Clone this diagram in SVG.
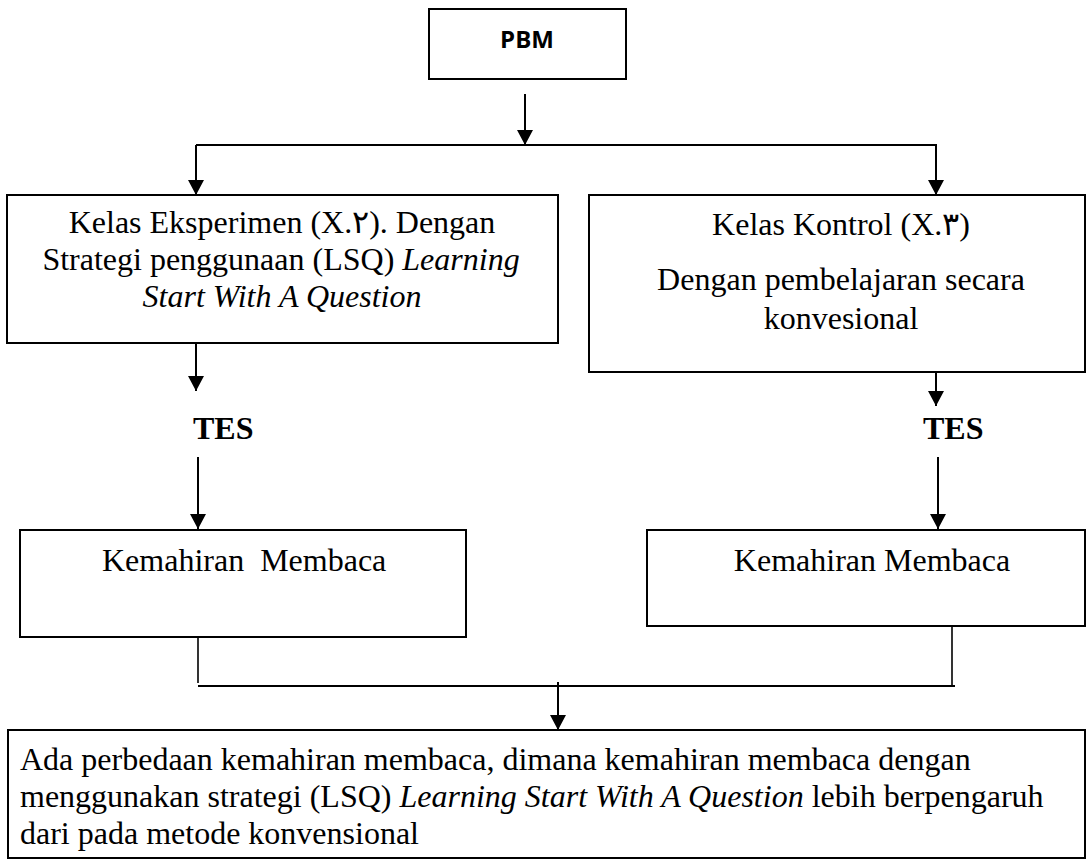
<svg xmlns="http://www.w3.org/2000/svg" width="1088" height="864" viewBox="0 0 1088 864">
<style>
.box{fill:#fff;stroke:#000;stroke-width:2}
.t{font-family:"Liberation Serif","Times New Roman",serif;font-size:32px;fill:#000}
.c{text-anchor:middle}
.b{font-weight:bold}
.sans{font-family:"Open Sans","Liberation Sans",sans-serif;font-size:24px;font-weight:bold;text-anchor:middle}
.ln{stroke:#000;stroke-width:2;fill:none}
.thin{stroke:#000;stroke-width:1.6;fill:none}
</style>
<defs>
<marker id="a" markerWidth="16" markerHeight="16" refX="15" refY="8" orient="auto" markerUnits="userSpaceOnUse" viewBox="0 0 15 16">
<path d="M0,0 L15,8 L0,16 Z" fill="#000"/>
</marker>
</defs>
<rect width="1088" height="864" fill="#fff"/>
<g id="connectors">
<line class="ln" x1="525" y1="94" x2="525" y2="145" marker-end="url(#a)"/>
<line class="ln" x1="196" y1="145" x2="937" y2="145"/>
<line class="ln" x1="196" y1="145" x2="196" y2="195" marker-end="url(#a)"/>
<line class="ln" x1="936" y1="145" x2="936" y2="195" marker-end="url(#a)"/>
<line class="ln" x1="196" y1="343" x2="196" y2="391" marker-end="url(#a)"/>
<line class="ln" x1="936" y1="357" x2="936" y2="406" marker-end="url(#a)"/>
<line class="ln" x1="198" y1="457" x2="198" y2="529" marker-end="url(#a)"/>
<line class="ln" x1="938" y1="457" x2="938" y2="529" marker-end="url(#a)"/>
<line class="thin" x1="198" y1="625" x2="198" y2="683"/>
<line class="thin" x1="952" y1="626" x2="952" y2="686"/>
<line class="ln" x1="198" y1="686" x2="955" y2="686"/>
<line class="ln" x1="558" y1="682" x2="558" y2="730" marker-end="url(#a)"/>
</g>
<g id="pbm">
<rect class="box" x="429" y="9" width="197" height="70"/>
<text class="sans" x="527" y="48">PBM</text>
</g>
<g id="eksperimen">
<rect class="box" x="7" y="195" width="551" height="148"/>
<text class="t c" x="282" y="233">Kelas Eksperimen (X.٢). Dengan</text>
<text class="t c" x="281" y="270">Strategi penggunaan (LSQ) <tspan font-style="italic">Learning</tspan></text>
<text class="t c" x="282" y="307" font-style="italic">Start With A Question</text>
</g>
<g id="kontrol">
<rect class="box" x="589" y="195" width="496" height="177"/>
<text class="t c" x="841" y="235">Kelas Kontrol (X.٣)</text>
<text class="t c" x="841" y="290">Dengan pembelajaran secara</text>
<text class="t c" x="841" y="329">konvesional</text>
</g>
<g id="tes-left">
<text class="t b" x="193" y="439">TES</text>
</g>
<g id="tes-right">
<text class="t b" x="923" y="439">TES</text>
</g>
<g id="kemahiran-left">
<rect class="box" x="20" y="530" width="446" height="107"/>
<text class="t" x="102" y="571" xml:space="preserve">Kemahiran  Membaca</text>
</g>
<g id="kemahiran-right">
<rect class="box" x="647" y="530" width="438" height="96"/>
<text class="t c" x="872" y="571">Kemahiran Membaca</text>
</g>
<g id="kesimpulan">
<rect class="box" x="8" y="730" width="1077" height="128"/>
<text class="t" x="20" y="770">Ada perbedaan kemahiran membaca, dimana kemahiran membaca dengan</text>
<text class="t" x="20" y="807">menggunakan strategi (LSQ) <tspan font-style="italic">Learning Start With A Question</tspan> lebih berpengaruh</text>
<text class="t" x="20" y="844">dari pada metode konvensional</text>
</g>
</svg>
